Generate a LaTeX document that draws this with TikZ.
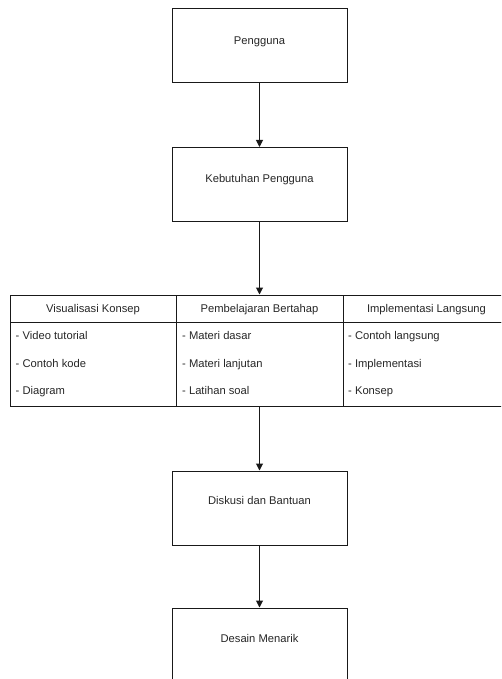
\documentclass[tikz,border=0pt]{standalone}
\usepackage{fontspec}
\setmainfont{Liberation Sans}
\usetikzlibrary{arrows.meta}
\begin{document}
\begin{tikzpicture}[x=1pt,y=-1pt,
  box/.style={draw=black!90, line width=1pt, minimum width=175pt, minimum height=74pt, inner sep=0pt},
  cell/.style={draw=black!90, line width=1pt, inner sep=0pt},
  lbl/.style={font=\fontsize{11.2}{13}\selectfont, text=black!85, inner sep=0pt, text height=8pt, text depth=2.5pt, yshift=-1.5pt},
  item/.style={lbl, anchor=west},
  arr/.style={draw=black!90, line width=1pt, -{Triangle[length=7pt,width=7pt]}}]
\useasboundingbox (0,0) rectangle (501,679);
\clip (0,0) rectangle (501,679);
% boxes
\node[box] (p) at (259.5,46) {};
\node[lbl] (pt) at (259.5,40) {Pengguna};
\node[box] (k) at (259.5,184.5) {};
\node[lbl] (kt) at (259.5,178) {Kebutuhan Pengguna};
\node[box] (d) at (259.5,508) {};
\node[lbl] (dt) at (259.5,500) {Diskusi dan Bantuan};
\node[box] (m) at (259.5,645) {};
\node[lbl] (mt) at (259.5,638) {Desain Menarik};
% table
\node[cell, minimum width=166pt, minimum height=27pt] (h1) at (93,308.5) {};
\node[cell, minimum width=167pt, minimum height=27pt] (h2) at (259.5,308.5) {};
\node[cell, minimum width=167pt, minimum height=27pt] (h3) at (426.5,308.5) {};
\node[cell, minimum width=166pt, minimum height=84pt] (b1) at (93,364) {};
\node[cell, minimum width=167pt, minimum height=84pt] (b2) at (259.5,364) {};
\node[cell, minimum width=167pt, minimum height=84pt] (b3) at (426.5,364) {};
\node[lbl] (h1t) at (93,308.5) {Visualisasi Konsep};
\node[lbl] (h2t) at (259.5,308.5) {Pembelajaran Bertahap};
\node[lbl] (h3t) at (426.5,308.5) {Implementasi Langsung};
\node[item] (a1) at (15.5,335) {- Video tutorial};
\node[item] (a2) at (15.5,363) {- Contoh kode};
\node[item] (a3) at (15.5,390) {- Diagram};
\node[item] (c1) at (182,335) {- Materi dasar};
\node[item] (c2) at (182,363) {- Materi lanjutan};
\node[item] (c3) at (182,390) {- Latihan soal};
\node[item] (e1) at (348,335) {- Contoh langsung};
\node[item] (e2) at (348,363) {- Implementasi};
\node[item] (e3) at (348,390) {- Konsep};
% connectors
\draw[arr] (p.south) -- (k.north);
\draw[arr] (k.south) -- (h2.north);
\draw[arr] (b2.south) -- (d.north);
\draw[arr] (d.south) -- (m.north);
\end{tikzpicture}
\end{document}
